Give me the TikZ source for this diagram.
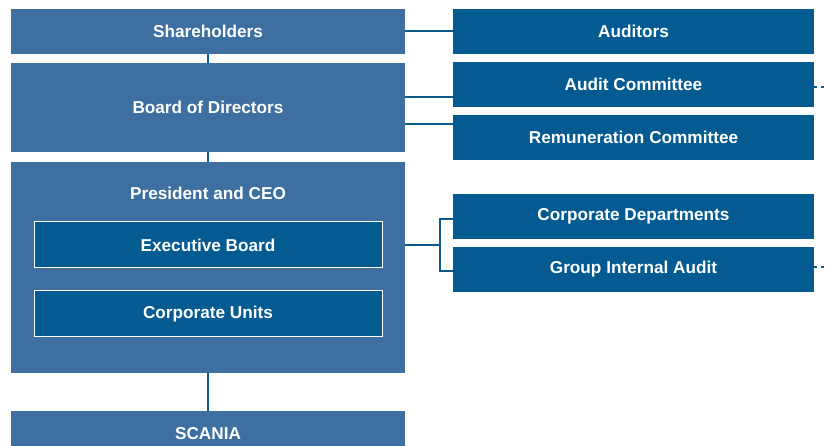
\documentclass[tikz,border=0pt]{standalone}
\usepackage{fontspec}
\setmainfont{Liberation Sans}
\definecolor{lblue}{HTML}{3D6FA1}
\definecolor{dblue}{HTML}{035B92}
\definecolor{lineblue}{HTML}{0B5A8F}
\begin{document}
\begin{tikzpicture}[x=1pt,y=1pt,
  txt/.style={text=white,font=\fontsize{17.2}{20}\selectfont\bfseries},
  lbox/.style={fill=lblue,draw=none,minimum width=394pt,txt},
  rbox/.style={fill=dblue,draw=none,minimum width=361pt,minimum height=45pt,txt},
  ibox/.style={fill=dblue,draw=white,line width=1pt,minimum width=348pt,minimum height=46pt,txt},
  conn/.style={draw=lineblue,line width=2pt},
  dotline/.style={draw=lineblue,line width=2pt,dash pattern=on 3pt off 4pt}]
\useasboundingbox (0,0) rectangle (827,446);
% left column
\node[lbox,minimum height=45pt] (sh) at (208,414.5) {Shareholders};
\node[lbox,minimum height=89pt] (bod) at (208,338.5) {Board of Directors};
\node[lbox,minimum height=211pt] (pres) at (208,178.5) {};
\node[txt] (prest) at (208,253) {President and CEO};
\node[ibox] (eb) at (208,201) {Executive Board};
\node[ibox] (cu) at (208,132) {Corporate Units};
\node[lbox,minimum height=45pt] (sc) at (208,12.5) {SCANIA};
% right column
\node[rbox] (aud) at (633.5,414.5) {Auditors};
\node[rbox] (ac) at (633.5,361.5) {Audit Committee};
\node[rbox] (rc) at (633.5,308.5) {Remuneration Committee};
\node[rbox] (cd) at (633.5,229.5) {Corporate Departments};
\node[rbox] (gia) at (633.5,176.5) {Group Internal Audit};
% connectors
\coordinate (br) at (440,201);
\coordinate (dend1) at (827,359);
\coordinate (dend2) at (827,179);
\draw[conn] (sh.east) -- (aud.west);
\draw[conn] (bod.east |- 0,349) -- (ac.west |- 0,349);
\draw[conn] (bod.east |- 0,322) -- (rc.west |- 0,322);
\draw[conn] (sh.south) -- (bod.north);
\draw[conn] (bod.south) -- (pres.north);
\draw[conn] (pres.south) -- (sc.north);
\draw[conn] (pres.east |- br) -- (br);
\draw[conn] (cd.west |- 0,227) -- (br |- 0,227) -- (br |- 0,175) -- (gia.west |- 0,175);
\draw[dotline] (ac.east |- dend1) -- (dend1);
\draw[dotline] (gia.east |- dend2) -- (dend2);
\end{tikzpicture}
\end{document}
